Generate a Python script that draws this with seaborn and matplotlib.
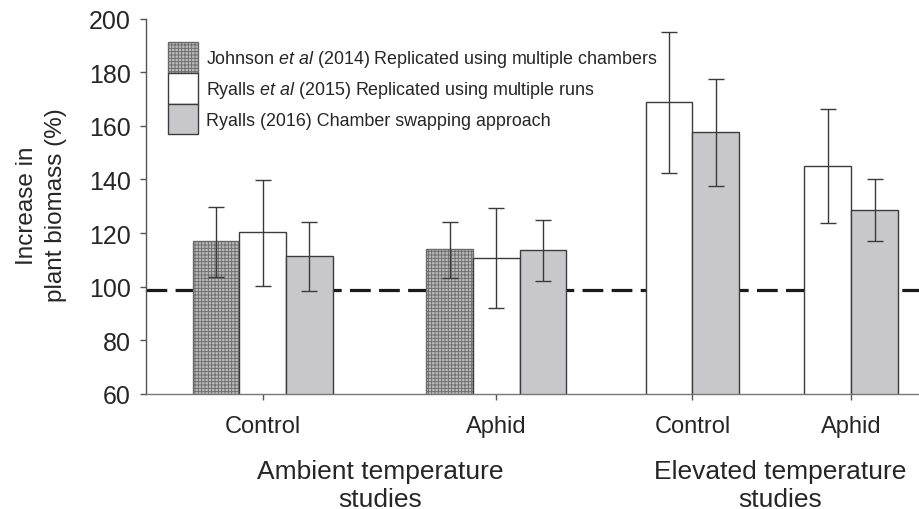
import pandas as pd
import matplotlib
matplotlib.use("Agg")
import matplotlib.pyplot as plt
import seaborn as sns
from matplotlib.patches import Patch
from matplotlib import transforms

# Data
groups = ["Ambient temperature\nstudies", "Elevated temperature\nstudies"]
tick_labels = ["Control", "Aphid", "Control", "Aphid"]
studies = [
    "Johnson $\\it{et\\ al}$ (2014) Replicated using multiple chambers",
    "Ryalls $\\it{et\\ al}$ (2015) Replicated using multiple runs",
    "Ryalls (2016) Chamber swapping approach",
]

johnson_mean = [117.0, 113.9]
johnson_low = [103.5, 103.1]
johnson_high = [129.8, 124.2]

ryalls15_mean = [120.3, 110.8, 168.8, 145.1]
ryalls15_low = [100.1, 92.1, 142.3, 123.8]
ryalls15_high = [139.7, 129.5, 195.1, 166.3]

ryalls16_mean = [111.3, 113.7, 157.6, 128.7]
ryalls16_low = [98.3, 102.1, 137.7, 117.0]
ryalls16_high = [124.0, 125.0, 177.6, 140.3]

baseline = 98.7

# Layout (bar width = 1 unit)
tick_pos = [2.5, 7.5, 11.7, 15.1]
ambient_offsets = [-1.0, 0.0, 1.0]
elevated_offsets = [-0.5, 0.5]

colors = {studies[0]: "#b9b9b9", studies[1]: "#ffffff", studies[2]: "#c8c8ca"}

sns.set_style("ticks")
plt.rcParams["font.family"] = ["Liberation Sans", "DejaVu Sans"]
plt.rcParams["mathtext.fontset"] = "custom"
plt.rcParams["mathtext.it"] = "Liberation Sans:italic"
plt.rcParams["mathtext.rm"] = "Liberation Sans"
plt.rcParams["hatch.linewidth"] = 0.6

# Build long table with bar positions
rows = []
series = [
    (studies[0], johnson_mean, johnson_low, johnson_high),
    (studies[1], ryalls15_mean, ryalls15_low, ryalls15_high),
    (studies[2], ryalls16_mean, ryalls16_low, ryalls16_high),
]
for k, (name, means, lows, highs) in enumerate(series):
    for i, m in enumerate(means):
        if len(means) == 2 or i < 2:
            x = tick_pos[i] + ambient_offsets[k]
        else:
            x = tick_pos[i] + elevated_offsets[k - 1]
        rows.append({"x": round(x, 3), "value": m, "low": lows[i], "high": highs[i], "study": name})
df = pd.DataFrame(rows)

fig = plt.figure(figsize=(9.19, 5.10), dpi=100)
ax = fig.add_axes([146 / 919, 1 - 395 / 510, 1 - 146 / 919, (395 - 19.5) / 510])

# dashed reference line behind the bars
ax.axhline(baseline, color="#1a1a1a", lw=2.3, dashes=(6.5, 2.6), zorder=0.8)

sns.barplot(data=df, x="x", y="value", hue="study", hue_order=studies,
            palette=colors, native_scale=True, dodge=False, width=1.0,
            errorbar=None, edgecolor="#3c3c3c", linewidth=1.0, legend=False, ax=ax)

for bar in ax.containers[0]:
    bar.set_hatch("+++++")
    bar.set_edgecolor("#6a6a6a")

ax.errorbar(df["x"], df["value"], yerr=[df["value"] - df["low"], df["high"] - df["value"]],
            fmt="none", ecolor="#3a3a3a", elinewidth=1.0, capsize=6, capthick=1.0, zorder=3)

ax.set_xlim(0, (919 - 146) / 46.7)
ax.set_ylim(60, 200)
ax.set_yticks(range(60, 201, 20))
ax.set_xticks(tick_pos)
ax.set_xticklabels(tick_labels, fontsize=17)
ax.tick_params(axis="y", labelsize=18, length=4, width=1, color="#555555", pad=7)
ax.tick_params(axis="x", length=4, width=1, color="#555555", pad=11)
ax.set_xlabel("")
ax.set_ylabel("Increase in\nplant biomass (%)", fontsize=17.5, linespacing=1.45)
ax.yaxis.set_label_coords(-0.102, 0.505)

sns.despine(ax=ax)
ax.spines["left"].set_color("#555555")
ax.spines["bottom"].set_color("#777777")
ax.spines["left"].set_linewidth(1)
ax.spines["bottom"].set_linewidth(1)

# group labels under the tick labels
trans = transforms.blended_transform_factory(ax.transData, ax.transAxes)
ax.text((380 - 146) / 46.7, -0.242, groups[0], transform=trans, ha="center", va="center",
        fontsize=19, linespacing=1.18)
ax.text((780 - 146) / 46.7, -0.242, groups[1], transform=trans, ha="center", va="center",
        fontsize=19, linespacing=1.18)

handles = [
    Patch(facecolor=colors[studies[0]], edgecolor="#6a6a6a", hatch="+++++", lw=1.0),
    Patch(facecolor=colors[studies[1]], edgecolor="#3c3c3c", lw=1.0),
    Patch(facecolor=colors[studies[2]], edgecolor="#3c3c3c", lw=1.0),
]
ax.legend(handles, studies, loc="upper left", bbox_to_anchor=(0.0285, 0.937),
          frameon=False, fontsize=12.9, handlelength=1.68, handleheight=2.26,
          labelspacing=0.0, handletextpad=0.45, borderpad=0, borderaxespad=0)

plt.savefig("out.png", dpi=100)
